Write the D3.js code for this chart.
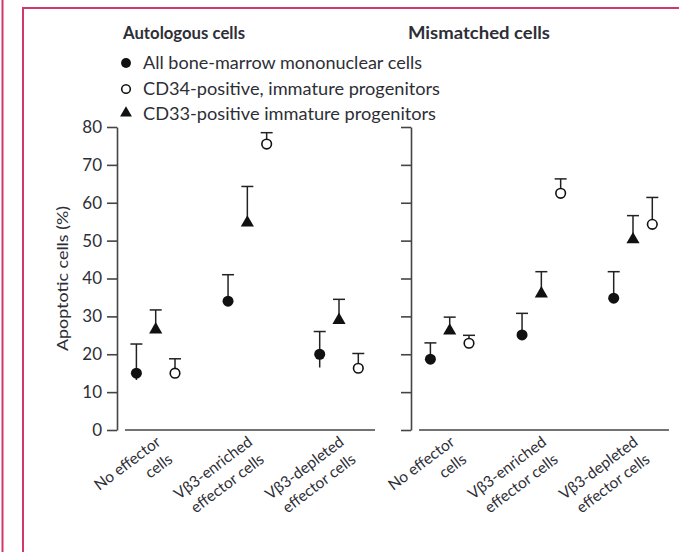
<!DOCTYPE html>
<html><head><meta charset="utf-8">
<script src="https://cdn.jsdelivr.net/npm/d3@7"></script>
<style>body{margin:0;background:#fff}svg{display:block}</style>
</head><body>
<script>
// ---------- data ----------
const panels = ["Autologous cells", "Mismatched cells"];
const categories = ["No effector cells", "Vβ3-enriched effector cells", "Vβ3-depleted effector cells"];
const categoryLines = [["No effector", "cells"], ["Vβ3-enriched", "effector cells"], ["Vβ3-depleted", "effector cells"]];
const seriesNames = ["All bone-marrow mononuclear cells", "CD34-positive, immature progenitors", "CD33-positive immature progenitors"];
const seriesKeys = ["allBM", "cd34", "cd33"];
const yTicks = [0, 10, 20, 30, 40, 50, 60, 70, 80];
const yLabel = "Apoptotic cells (%)";

// Autologous cells
const autoAllBM = [15, 34, 20];
const autoAllBMUpper = [22.7, 41, 26];
const autoAllBMLower = [13.2, 34, 16.5];
const autoCD34 = [15, 75.5, 16.3];
const autoCD34Upper = [18.8, 78.5, 20.2];
const autoCD33 = [26.5, 54.7, 29];
const autoCD33Upper = [31.7, 64.3, 34.5];

// Mismatched cells
const misAllBM = [18.7, 25.1, 34.8];
const misAllBMUpper = [23, 30.8, 41.8];
const misCD34 = [22.9, 62.5, 54.3];
const misCD34Upper = [25, 66.3, 61.4];
const misCD33 = [26.2, 36, 50.3];
const misCD33Upper = [29.8, 41.8, 56.6];

// ---------- build ----------
const panelData = [
  {allBM: {v: autoAllBM, up: autoAllBMUpper, lo: autoAllBMLower},
   cd34: {v: autoCD34, up: autoCD34Upper, lo: autoCD34},
   cd33: {v: autoCD33, up: autoCD33Upper, lo: autoCD33}},
  {allBM: {v: misAllBM, up: misAllBMUpper, lo: misAllBM},
   cd34: {v: misCD34, up: misCD34Upper, lo: misCD34},
   cd33: {v: misCD33, up: misCD33Upper, lo: misCD33}}
];

const W = 679, H = 552;
const FONT = "Lato, 'Open Sans', sans-serif";
const INK = "#2e2e36";
const AX = "#444";
const svg = d3.select("body").append("svg").attr("width", W).attr("height", H)
  .style("font-family", FONT);

// frame
svg.append("line").attr("x1", 2.5).attr("x2", 2.5).attr("y1", 0).attr("y2", H)
  .attr("stroke", "#d3376d").attr("stroke-width", 2);
svg.append("rect").attr("x", 23).attr("y", 8).attr("width", W + 20).attr("height", H + 20)
  .attr("fill", "none").attr("stroke", "#d3376d").attr("stroke-width", 2);

const y = d3.scaleLinear().domain([0, 80]).range([430, 127]);
const panelShift = 294;
const yAxisX0 = 117;
const xAxisStart0 = 125, xAxisEnd0 = 375;
const offset = d3.scalePoint().domain(["allBM", "cd33", "cd34"]).range([-19.3, 19.3]);

// titles
const titleX = [123, 408];
const titleW = [122, 142];
panels.forEach((p, i) => {
  svg.append("text").attr("x", titleX[i]).attr("y", 39).text(p)
    .attr("font-size", 16.5).attr("font-weight", "bold").attr("fill", INK)
    .attr("textLength", titleW[i]).attr("lengthAdjust", "spacingAndGlyphs");
});

// legend
const legendY = [63, 89, 114];
const legendW = [279, 297, 293];

function drawMarker(g, key, cx, cy, scale) {
  const s = scale || 1;
  if (key === "allBM") {
    g.append("circle").attr("cx", cx).attr("cy", cy).attr("r", 5.5 * s).attr("fill", "#111");
  } else if (key === "cd34") {
    g.append("circle").attr("cx", cx).attr("cy", cy).attr("r", 4.8 * s).attr("fill", "#fff")
      .attr("stroke", "#111").attr("stroke-width", 1.6);
  } else {
    g.append("path").attr("d", d3.symbol().type(d3.symbolTriangle).size(75 * s * s)())
      .attr("transform", `translate(${cx},${cy})`).attr("fill", "#111");
  }
}

const lg = svg.append("g");
seriesNames.forEach((n, i) => {
  drawMarker(lg, seriesKeys[i], 126, legendY[i] + (seriesKeys[i] === "cd33" ? -1 : 0), 0.9);
  lg.append("text").attr("x", 143).attr("y", legendY[i] + 6).text(n)
    .attr("font-size", 17).attr("fill", INK)
    .attr("textLength", legendW[i]).attr("lengthAdjust", "spacingAndGlyphs");
});

// panels
panelData.forEach((pd, pi) => {
  const sh = pi * panelShift;
  const g = svg.append("g");
  const x = d3.scalePoint().domain(categories).range([155.7 + sh, 339 + sh]);

  // y axis
  const yAxis = d3.axisLeft(y).tickValues(yTicks).tickSize(10).tickSizeOuter(0).tickPadding(5);
  if (pi === 1) yAxis.tickFormat("");
  const ya = g.append("g").attr("transform", `translate(${yAxisX0 + sh},0)`).call(yAxis);
  ya.selectAll("path,line").attr("stroke", AX).attr("stroke-width", 1.6);
  ya.selectAll("text").attr("font-size", 17).attr("fill", INK).attr("font-family", FONT);

  // x axis line
  g.append("line").attr("x1", xAxisStart0 + sh).attr("x2", xAxisEnd0 + sh)
    .attr("y1", y(0)).attr("y2", y(0)).attr("stroke", AX).attr("stroke-width", 1.6);

  // x labels
  categories.forEach((c, ci) => {
    const ax = x(c) + 6, ay = 444;
    const t = g.append("text").attr("transform", `translate(${ax},${ay}) rotate(-37)`)
      .attr("text-anchor", "end").attr("font-size", 15.5).attr("fill", INK);
    categoryLines[ci].forEach((ln, li) => {
      t.append("tspan").attr("x", li === 0 ? 0 : -1).attr("y", li * 21).text(ln);
    });
  });

  // error bars then markers
  ["allBM", "cd33", "cd34"].forEach(key => {
    const s = pd[key];
    categories.forEach((c, ci) => {
      const cx = x(c) + offset(key);
      g.append("line").attr("x1", cx).attr("x2", cx)
        .attr("y1", y(s.v[ci])).attr("y2", y(s.up[ci])).attr("stroke", "#222").attr("stroke-width", 1.5);
      g.append("line").attr("x1", cx - 6).attr("x2", cx + 6)
        .attr("y1", y(s.up[ci])).attr("y2", y(s.up[ci])).attr("stroke", "#222").attr("stroke-width", 1.5);
      if (s.lo[ci] < s.v[ci]) {
        g.append("line").attr("x1", cx).attr("x2", cx)
          .attr("y1", y(s.v[ci])).attr("y2", y(s.lo[ci])).attr("stroke", "#222").attr("stroke-width", 1.5);
      }
    });
  });
  ["allBM", "cd33", "cd34"].forEach(key => {
    const s = pd[key];
    categories.forEach((c, ci) => {
      drawMarker(g, key, x(c) + offset(key), y(s.v[ci]), 1);
    });
  });
});

// y label
svg.append("text").attr("transform", `translate(68,${(y(0) + y(80)) / 2}) rotate(-90)`)
  .attr("text-anchor", "middle").attr("font-size", 16).attr("fill", INK)
  .attr("textLength", 145).attr("lengthAdjust", "spacingAndGlyphs").text(yLabel);
</script>
</body></html>
